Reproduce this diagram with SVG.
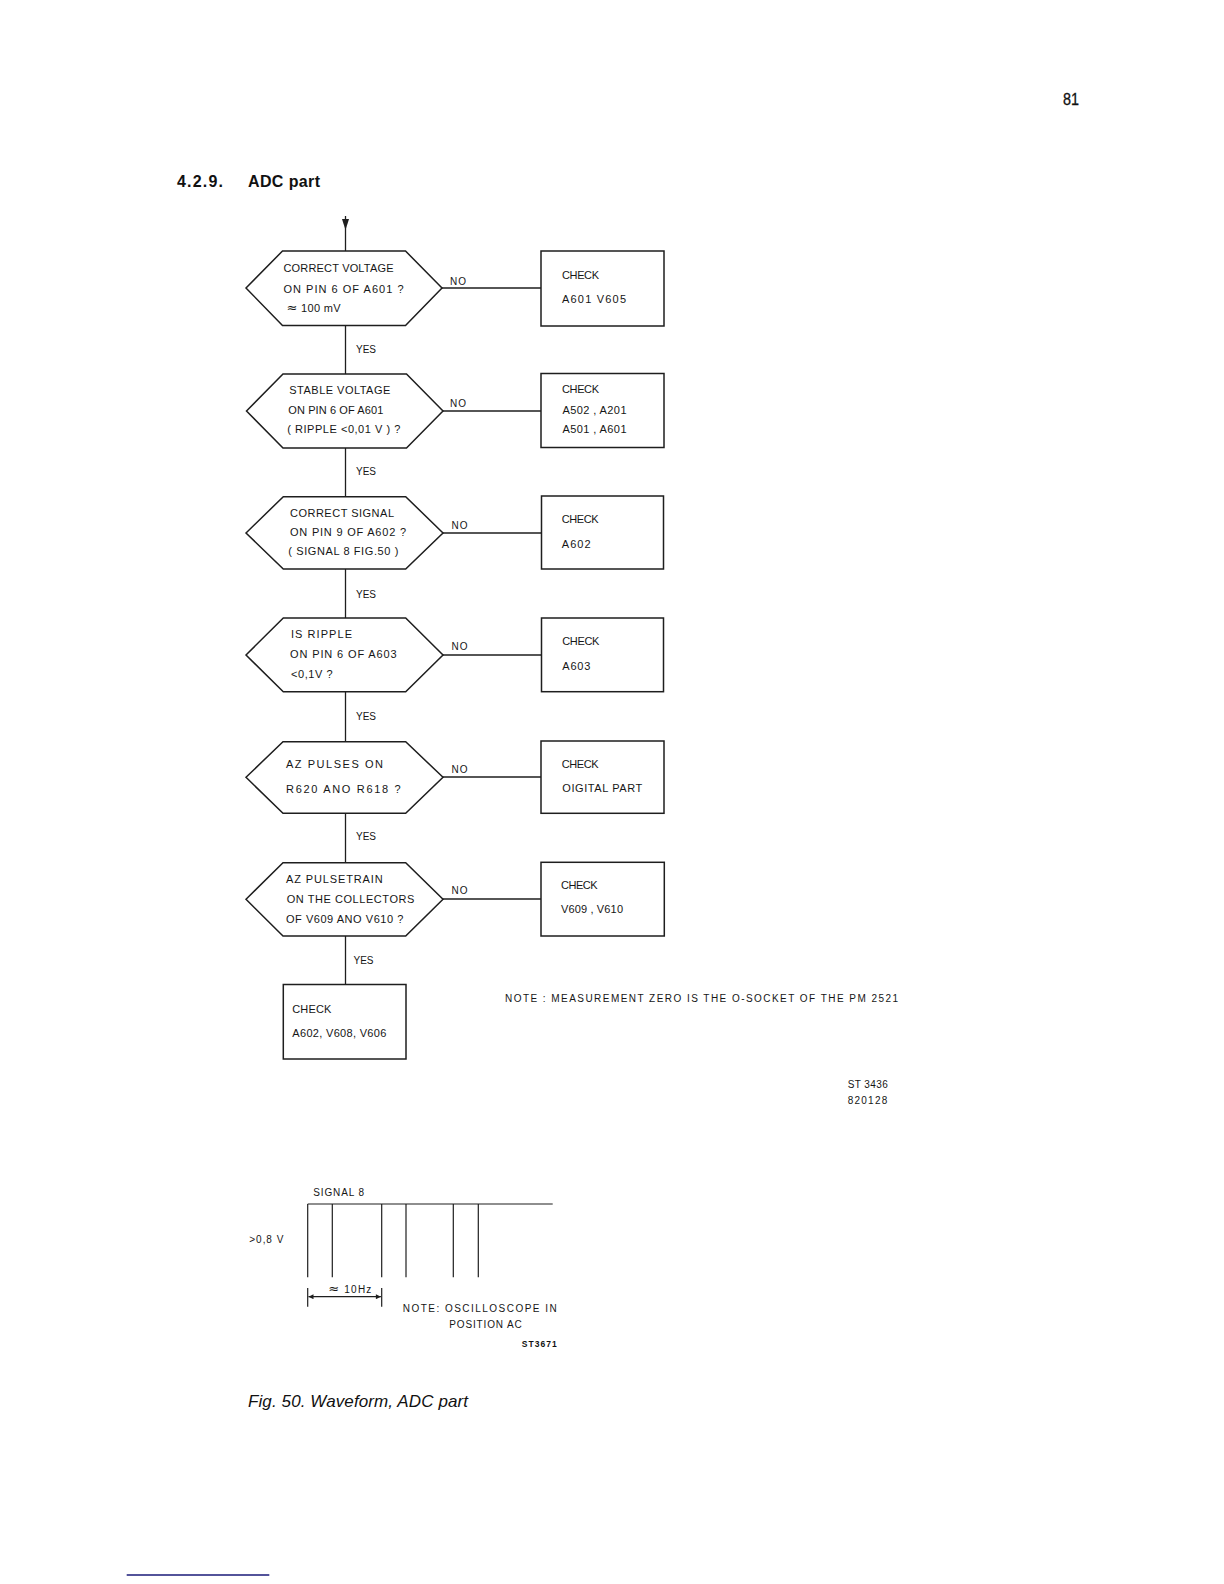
<svg xmlns="http://www.w3.org/2000/svg" width="1224" height="1584" viewBox="0 0 1224 1584">
<defs>
<style>
.t{font-family:"Liberation Sans","DejaVu Sans",Arial,sans-serif;font-size:11px;fill:#161616}
.s{font-family:"Liberation Sans","DejaVu Sans",Arial,sans-serif;font-size:10px;fill:#161616}
.h{font-family:"Liberation Sans",Arial,sans-serif;font-weight:bold;fill:#111}
.ap{font-family:"DejaVu Sans",sans-serif;font-size:13px}
.ln{stroke:#1e1e1e;stroke-width:1.3;fill:none}
.nd{stroke:#1e1e1e;stroke-width:1.5;fill:#fff}
.w{stroke:#1e1e1e;stroke-width:1.2;fill:none}
</style>
<marker id="ah" viewBox="0 0 10 10" refX="10" refY="5" markerWidth="7" markerHeight="5" orient="auto" markerUnits="userSpaceOnUse">
<path d="M0,0 L10,5 L0,10 z" fill="#1e1e1e"/>
</marker>
</defs>
<rect width="1224" height="1584" fill="#fff"/>

<text x="1063" y="105" font-family="Liberation Sans, Arial, sans-serif" font-size="17" fill="#111" stroke="#111" stroke-width="0.3" textLength="16" lengthAdjust="spacingAndGlyphs">81</text>
<text class="h" x="177" y="187" font-size="16" textLength="46" lengthAdjust="spacing">4.2.9.</text>
<text class="h" x="248" y="187" font-size="16" textLength="72" lengthAdjust="spacing">ADC part</text>

<g id="connectors">
<line class="ln" x1="345.5" y1="216" x2="345.5" y2="251"/>
<polygon points="342,219 349,219 345.5,230" fill="#1e1e1e"/>
<line class="ln" x1="345.5" y1="326" x2="345.5" y2="374"/>
<line class="ln" x1="345.5" y1="448" x2="345.5" y2="497"/>
<line class="ln" x1="345.5" y1="569" x2="345.5" y2="618"/>
<line class="ln" x1="345.5" y1="692" x2="345.5" y2="742"/>
<line class="ln" x1="345.5" y1="813" x2="345.5" y2="863"/>
<line class="ln" x1="345.5" y1="936" x2="345.5" y2="984.5"/>
<line class="ln" x1="442" y1="288" x2="541" y2="288"/>
<line class="ln" x1="443" y1="411" x2="541" y2="411"/>
<line class="ln" x1="443" y1="533" x2="541" y2="533"/>
<line class="ln" x1="443" y1="655" x2="541" y2="655"/>
<line class="ln" x1="443" y1="777" x2="541" y2="777"/>
<line class="ln" x1="443" y1="899" x2="541" y2="899"/>
<text class="s" x="450" y="285" textLength="16" lengthAdjust="spacing">NO</text>
<text class="s" x="450" y="406.5" textLength="16" lengthAdjust="spacing">NO</text>
<text class="s" x="451.5" y="528.5" textLength="16" lengthAdjust="spacing">NO</text>
<text class="s" x="451.5" y="650" textLength="16" lengthAdjust="spacing">NO</text>
<text class="s" x="451.5" y="772.5" textLength="16" lengthAdjust="spacing">NO</text>
<text class="s" x="451.5" y="894" textLength="16" lengthAdjust="spacing">NO</text>
<text class="s" x="356" y="352.5" textLength="20" lengthAdjust="spacing">YES</text>
<text class="s" x="356" y="475" textLength="20" lengthAdjust="spacing">YES</text>
<text class="s" x="356" y="598" textLength="20" lengthAdjust="spacing">YES</text>
<text class="s" x="356" y="720" textLength="20" lengthAdjust="spacing">YES</text>
<text class="s" x="356" y="840" textLength="20" lengthAdjust="spacing">YES</text>
<text class="s" x="353.5" y="964" textLength="20" lengthAdjust="spacing">YES</text>
</g>

<g id="q1">
<polygon class="nd" points="246,288 282.5,251 405.5,251 442,288 405.5,325.5 282.5,325.5"/>
<text class="t" x="283.5" y="271.5" textLength="110" lengthAdjust="spacing">CORRECT  VOLTAGE</text>
<text class="t" x="283.5" y="292.5" textLength="120" lengthAdjust="spacing">ON  PIN 6 OF  A601 ?</text>
<text class="t" x="286.5" y="311.5" textLength="54" lengthAdjust="spacing"><tspan class="ap">≈</tspan> 100 mV</text>
</g>
<g id="b1">
<rect class="nd" x="541" y="251" width="123" height="75"/>
<text class="t" x="562" y="279" textLength="37" lengthAdjust="spacing">CHECK</text>
<text class="t" x="562" y="303" textLength="64" lengthAdjust="spacing">A601  V605</text>
</g>

<g id="q2">
<polygon class="nd" points="246.5,411 283,374 406.5,374 443,411 406.5,448 283,448"/>
<text class="t" x="289.3" y="394" textLength="101" lengthAdjust="spacing">STABLE  VOLTAGE</text>
<text class="t" x="288.3" y="414" textLength="95" lengthAdjust="spacing">ON  PIN 6 OF  A601</text>
<text class="t" x="287.3" y="432.7" textLength="113" lengthAdjust="spacing">( RIPPLE  &lt;0,01 V ) ?</text>
</g>
<g id="b2">
<rect class="nd" x="541" y="373.5" width="123" height="74"/>
<text class="t" x="562" y="393.3" textLength="37" lengthAdjust="spacing">CHECK</text>
<text class="t" x="562.5" y="414" textLength="64" lengthAdjust="spacing">A502 , A201</text>
<text class="t" x="562.5" y="432.7" textLength="64" lengthAdjust="spacing">A501 , A601</text>
</g>

<g id="q3">
<polygon class="nd" points="246,533 283.3,496.7 405.7,496.7 443,533 405.7,569 283.3,569"/>
<text class="t" x="290" y="516.7" textLength="104" lengthAdjust="spacing">CORRECT  SIGNAL</text>
<text class="t" x="290" y="536" textLength="116" lengthAdjust="spacing">ON  PIN 9  OF A602 ?</text>
<text class="t" x="288.3" y="555" textLength="110" lengthAdjust="spacing">( SIGNAL 8  FIG.50 )</text>
</g>
<g id="b3">
<rect class="nd" x="541.5" y="496" width="122" height="73"/>
<text class="t" x="561.7" y="523.3" textLength="37" lengthAdjust="spacing">CHECK</text>
<text class="t" x="561.7" y="548.3" textLength="29" lengthAdjust="spacing">A602</text>
</g>

<g id="q4">
<polygon class="nd" points="246,655 283.3,618 405.7,618 443,655 405.7,691.7 283.3,691.7"/>
<text class="t" x="291" y="638.3" textLength="61" lengthAdjust="spacing">IS  RIPPLE</text>
<text class="t" x="290" y="658.3" textLength="106.7" lengthAdjust="spacing">ON  PIN  6 OF A603</text>
<text class="t" x="291" y="677.7" textLength="41.7" lengthAdjust="spacing">&lt;0,1V ?</text>
</g>
<g id="b4">
<rect class="nd" x="541.5" y="618" width="122" height="73.7"/>
<text class="t" x="562.3" y="645" textLength="37" lengthAdjust="spacing">CHECK</text>
<text class="t" x="562.3" y="670" textLength="28" lengthAdjust="spacing">A603</text>
</g>

<g id="q5">
<polygon class="nd" points="246,777.3 283,741.7 405.7,741.7 443,777.3 405.7,813.3 283,813.3"/>
<text class="t" x="286" y="768.3" textLength="97" lengthAdjust="spacing">AZ  PULSES ON</text>
<text class="t" x="286" y="792.7" textLength="114.7" lengthAdjust="spacing">R620  ANO  R618 ?</text>
</g>
<g id="b5">
<rect class="nd" x="541" y="741" width="123" height="72.3"/>
<text class="t" x="561.7" y="767.7" textLength="37" lengthAdjust="spacing">CHECK</text>
<text class="t" x="562.3" y="791.7" textLength="80" lengthAdjust="spacing">OIGITAL  PART</text>
</g>

<g id="q6">
<polygon class="nd" points="246,899.3 283,862.7 405.7,862.7 443,899.3 405.7,936 283,936"/>
<text class="t" x="286" y="883.3" textLength="96.7" lengthAdjust="spacing">AZ  PULSETRAIN</text>
<text class="t" x="286.7" y="903.3" textLength="127.7" lengthAdjust="spacing">ON  THE  COLLECTORS</text>
<text class="t" x="286" y="922.7" textLength="117.3" lengthAdjust="spacing">OF  V609  ANO V610 ?</text>
</g>
<g id="b6">
<rect class="nd" x="541" y="862.3" width="123.3" height="73.7"/>
<text class="t" x="561" y="889.3" textLength="36.7" lengthAdjust="spacing">CHECK</text>
<text class="t" x="561" y="913.3" textLength="62" lengthAdjust="spacing">V609 , V610</text>
</g>

<g id="b7">
<rect class="nd" x="283.3" y="984.5" width="122.7" height="74.5"/>
<text class="t" x="292.3" y="1013.3" textLength="39" lengthAdjust="spacing">CHECK</text>
<text class="t" x="292.3" y="1036.7" textLength="94" lengthAdjust="spacing">A602, V608, V606</text>
</g>

<text class="s" x="505" y="1001.5" textLength="393" lengthAdjust="spacing">NOTE : MEASUREMENT  ZERO  IS THE  O-SOCKET  OF  THE  PM  2521</text>

<text class="s" x="847.7" y="1088.3" font-size="9" textLength="40" lengthAdjust="spacing">ST 3436</text>
<text class="s" x="847.7" y="1104.3" font-size="9" textLength="39.6" lengthAdjust="spacing">820128</text>

<g id="waveform">
<text class="s" x="313.3" y="1196" font-size="9.5" textLength="50.7" lengthAdjust="spacing">SIGNAL 8</text>
<line class="w" x1="307.7" y1="1204" x2="552.7" y2="1204" stroke-width="1"/>
<line class="w" x1="307.7" y1="1204" x2="307.7" y2="1277.3"/>
<line class="w" x1="332.3" y1="1204" x2="332.3" y2="1277.3"/>
<line class="w" x1="381.7" y1="1204" x2="381.7" y2="1277.3"/>
<line class="w" x1="406" y1="1204" x2="406" y2="1277.3"/>
<line class="w" x1="453.3" y1="1204" x2="453.3" y2="1277.3"/>
<line class="w" x1="478.3" y1="1204" x2="478.3" y2="1277.3"/>
<text class="s" x="249.3" y="1243.3" font-size="9.5" textLength="34" lengthAdjust="spacing">&gt;0,8 V</text>
<line class="w" x1="307.7" y1="1288" x2="307.7" y2="1306.7"/>
<line class="w" x1="381.7" y1="1288" x2="381.7" y2="1306.7"/>
<line class="w" x1="345" y1="1296.7" x2="308.5" y2="1296.7" marker-end="url(#ah)"/>
<line class="w" x1="345" y1="1296.7" x2="380.9" y2="1296.7" marker-end="url(#ah)"/>
<text class="s" x="328.3" y="1292.7" font-size="10" textLength="43" lengthAdjust="spacing"><tspan class="ap" font-size="12">≈</tspan> 10Hz</text>
<text class="s" x="402.7" y="1311.7" textLength="154" lengthAdjust="spacing">NOTE:  OSCILLOSCOPE  IN</text>
<text class="s" x="449.3" y="1327.7" textLength="72.4" lengthAdjust="spacing">POSITION  AC</text>
<text class="h" x="521.7" y="1346.7" font-size="8.5" textLength="35" lengthAdjust="spacing">ST3671</text>
</g>

<text x="248" y="1407" font-family="Liberation Sans, Arial, sans-serif" font-style="italic" font-size="17" fill="#111" textLength="220" lengthAdjust="spacing">Fig. 50. Waveform, ADC part</text>

<line x1="126.7" y1="1575" x2="269.3" y2="1575" stroke="#1a1a78" stroke-width="1.3"/>
</svg>
